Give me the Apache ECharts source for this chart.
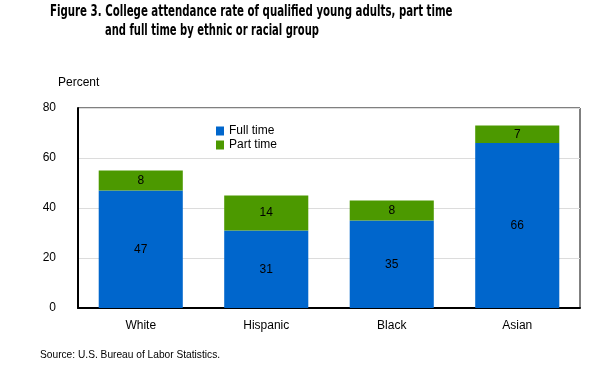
<!DOCTYPE html>
<html><head><meta charset="utf-8">
<script src="https://cdn.jsdelivr.net/npm/echarts@6/dist/echarts.min.js"></script>
<style>html,body{margin:0;padding:0;background:#fff}#c{width:612px;height:370px}</style>
</head><body><div id="c"></div>
<script>
const categories = ['White', 'Hispanic', 'Black', 'Asian'];
const fullTime = [47, 31, 35, 66];
const partTime = [8, 14, 8, 7];
const seriesNames = ['Full time', 'Part time'];
const titleLines = ['Figure 3. College attendance rate of qualified young adults, part time', 'and full time by ethnic or racial group'];
const yUnit = 'Percent';
const sourceText = 'Source: U.S. Bureau of Labor Statistics.';

const chart = echarts.init(document.getElementById('c'), null, {renderer: 'canvas'});
const FONT = 'Liberation Sans';
const TFONT = 'bold 15px "DejaVu Sans Condensed", "DejaVu Sans", sans-serif';
const lbl = {show: true, position: 'inside', color: '#000', fontFamily: FONT, fontSize: 12};
chart.setOption({
  animation: false,
  textStyle: {fontFamily: FONT},
  graphic: [
    {type: 'text', x: 50, y: 5, scaleX: 0.757, style: {text: titleLines[0], font: TFONT, fill: '#000', textVerticalAlign: 'top'}},
    {type: 'text', x: 105, y: 24, scaleX: 0.74, style: {text: titleLines[1], font: TFONT, fill: '#000', textVerticalAlign: 'top'}},
    {type: 'text', x: 58, y: 77, style: {text: yUnit, font: '12px "Liberation Sans"', fill: '#000', textVerticalAlign: 'top'}},
    {type: 'text', x: 40, y: 350, style: {text: sourceText, font: '10.2px "Liberation Sans"', fill: '#000', textVerticalAlign: 'top'}}
  ],
  legend: {
    data: seriesNames, orient: 'vertical', left: 216, top: 125, padding: 0, icon: 'rect',
    itemWidth: 8, itemHeight: 9, itemGap: 2,
    textStyle: {fontFamily: FONT, fontSize: 12, color: '#000'}
  },
  grid: {left: 78, right: 32, top: 108, bottom: 62, containLabel: false, outerBoundsMode: 'none',
    show: true, borderColor: '#000', borderWidth: 1},
  xAxis: {
    type: 'category', data: categories,
    axisLine: {lineStyle: {color: '#000', width: 2}},
    axisTick: {show: false},
    axisLabel: {color: '#000', fontSize: 12, fontFamily: FONT, margin: 12}
  },
  yAxis: {
    type: 'value', min: 0, max: 80, interval: 20,
    axisLine: {show: true, lineStyle: {color: '#000', width: 2}},
    axisTick: {show: false},
    axisLabel: {color: '#000', fontSize: 12, fontFamily: FONT, margin: 22},
    splitLine: {lineStyle: {color: '#dcdcdc', width: 1}}
  },
  series: [
    {name: seriesNames[0], type: 'bar', stack: 'a', data: fullTime, barCategoryGap: '33%',
      itemStyle: {color: '#0066CC'}, label: lbl},
    {name: seriesNames[1], type: 'bar', stack: 'a', data: partTime, barCategoryGap: '33%',
      itemStyle: {color: '#4C9900'}, label: lbl}
  ]
});
</script></body></html>
